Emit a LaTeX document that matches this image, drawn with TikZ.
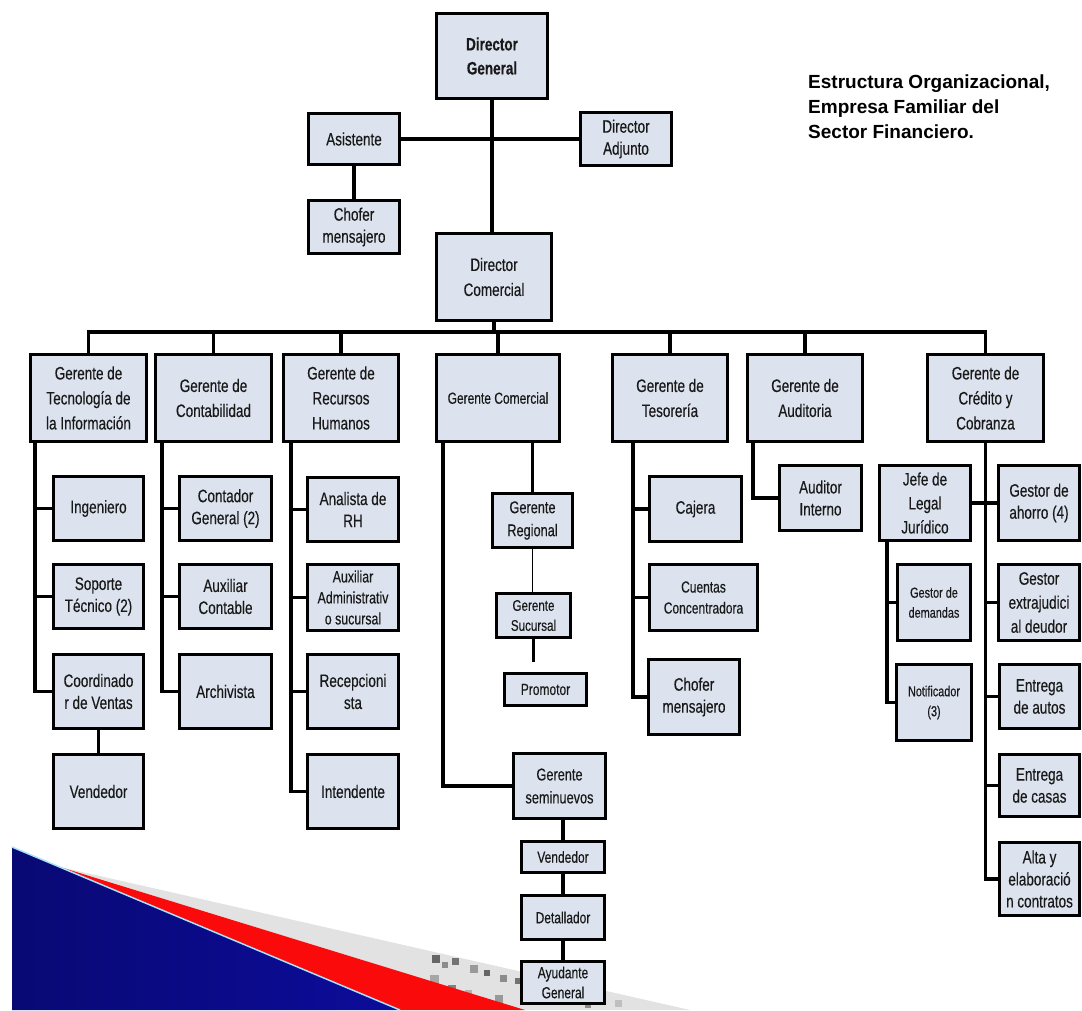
\documentclass[tikz,border=0pt]{standalone}
\usepackage{fontspec}
\setmainfont{Liberation Sans}
\newfontfamily\nar[FakeStretch=0.75,FakeBold=0.35]{Liberation Sans}
\definecolor{boxfill}{RGB}{220,227,238}
\definecolor{txt}{RGB}{25,25,25}
\definecolor{decoblue}{RGB}{12,12,155}
\definecolor{decored}{RGB}{250,10,10}
\definecolor{decogray}{RGB}{226,226,226}
\newcommand{\orgbox}[7][]{\node[bx,minimum width={(#4-#2-3)*1pt},minimum height={(#5-#3-3)*1pt},#1] (#6) at ({(#2+#4)/2},{(#3+#5)/2}) {#7};}
\begin{document}
\begin{tikzpicture}[x=1pt,y=-1pt,
  bx/.style={draw=black, line width=3.1pt, fill=boxfill, inner sep=0pt, align=center, text=txt,
             font=\nar\fontsize{18}{22}\selectfont},
  mgr/.style={font=\nar\fontsize{18}{25}\selectfont},
  sm/.style={font=\nar\fontsize{16}{21}\selectfont},
  xs/.style={font=\nar\fontsize{14.5}{20}\selectfont},
  ln/.style={line width=3.1pt, draw=black},
  thinln/.style={line width=1.4pt, draw=black}]
\useasboundingbox (0,0) rectangle (1082,1010);
\fill[white] (0,0) rectangle (1082,1010);

% ---------- decoration (bottom left) ----------
\fill[decogray] (60,867) -- (690,1010) -- (525,1010) -- cycle;
\foreach \px/\py/\s/\c in {432/955/8/60,442/962/6/45,452/958/7/55,470/965/8/40,484/970/6/60,500/975/7/45,
  515/978/6/55,430/975/9/35,448/985/8/50,465/990/7/30,495/995/8/40,600/995/6/35,615/1000/7/25,585/1002/6/45}
  {\fill[black!\c] (\px,\py) rectangle ++(\s,\s);}
\fill[decored] (60,867) -- (525,1010) -- (400,1010) -- cycle;
\shade[left color=decoblue!75!black, right color=decoblue] (12,847) -- (400,1010) -- (12,1010) -- cycle;
\draw[cyan!35!white, line width=1.5pt] (12,847) -- (400,1010);

% ---------- title ----------
\node[anchor=north west, inner sep=0pt, align=left, font=\bfseries\fontsize{19}{25}\selectfont] (title) at (808,75)
  {Estructura Organizacional,\\Empresa Familiar del\\Sector Financiero.};

% ---------- top ----------
\orgbox[font=\nar\bfseries\fontsize{18}{24}\selectfont]{435}{12}{549}{100}{dg}{Director\\General}
\orgbox{307}{112}{401}{166}{asis}{Asistente}
\orgbox{579}{111}{673}{167}{adj}{Director\\Adjunto}
\orgbox{307}{199}{401}{255}{chof}{Chofer\\mensajero}
\orgbox[mgr]{435}{232}{553}{322}{dc}{Director\\Comercial}

% ---------- managers ----------
\orgbox[mgr]{29}{353}{148}{443}{ti}{Gerente de\\Tecnología de\\la Información}
\orgbox[mgr]{154}{353}{273}{443}{cont}{Gerente de\\Contabilidad}
\orgbox[mgr]{282}{353}{400}{443}{rh}{Gerente de\\Recursos\\Humanos}
\orgbox[sm]{435}{353}{561}{443}{com}{Gerente Comercial}
\orgbox[mgr]{611}{353}{729}{443}{tes}{Gerente de\\Tesorería}
\orgbox[mgr]{746}{353}{864}{443}{aud}{Gerente de\\Auditoria}
\orgbox[mgr]{926}{353}{1045}{443}{cred}{Gerente de\\Crédito y\\Cobranza}

% ---------- TI ----------
\orgbox{52}{475}{145}{542}{ing}{Ingeniero}
\orgbox{52}{563}{145}{630}{sop}{Soporte\\Técnico (2)}
\orgbox{52}{653}{145}{730}{coord}{Coordinado\\r de Ventas}
\orgbox{52}{753}{145}{830}{vend}{Vendedor}

% ---------- Contabilidad ----------
\orgbox{178}{475}{273}{542}{conta}{Contador\\General (2)}
\orgbox{178}{563}{273}{630}{auxc}{Auxiliar\\Contable}
\orgbox{178}{653}{273}{730}{arch}{Archivista}

% ---------- RRHH ----------
\orgbox{306}{476}{400}{543}{anal}{Analista de\\RH}
\orgbox[font=\nar\fontsize{16.5}{21}\selectfont]{306}{563}{400}{632}{auxa}{Auxiliar\\Administrativ\\o sucursal}
\orgbox{306}{653}{400}{730}{recep}{Recepcioni\\sta}
\orgbox{306}{753}{400}{830}{inten}{Intendente}

% ---------- Comercial ----------
\orgbox[font=\nar\fontsize{17}{23}\selectfont]{491}{492}{574}{549}{reg}{Gerente\\Regional}
\orgbox[font=\nar\fontsize{15.5}{20}\selectfont]{495}{592}{572}{639}{suc}{Gerente\\Sucursal}
\orgbox[sm]{503}{672}{588}{707}{prom}{Promotor}
\orgbox[font=\nar\fontsize{17}{23}\selectfont]{512}{752}{607}{820}{semi}{Gerente\\seminuevos}
\orgbox[sm]{520}{840}{606}{874}{vend2}{Vendedor}
\orgbox[sm]{520}{894}{606}{941}{det}{Detallador}
\orgbox[font=\nar\fontsize{16}{20}\selectfont]{520}{960}{606}{1005}{ayu}{Ayudante\\General}

% ---------- Tesoreria ----------
\orgbox{648}{475}{743}{543}{caj}{Cajera}
\orgbox[sm]{648}{563}{759}{632}{cue}{Cuentas\\Concentradora}
\orgbox{647}{658}{741}{736}{chof2}{Chofer\\mensajero}

% ---------- Auditoria ----------
\orgbox{778}{464}{863}{532}{audi}{Auditor\\Interno}

% ---------- Credito ----------
\orgbox[font=\nar\fontsize{18}{24}\selectfont]{878}{464}{972}{542}{jefe}{Jefe de\\Legal\\Jurídico}
\orgbox{997}{464}{1081}{542}{aho}{Gestor de\\ahorro (4)}
\orgbox[font=\nar\fontsize{18}{24}\selectfont]{997}{563}{1081}{642}{ext}{Gestor\\extrajudici\\al deudor}
\orgbox{998}{663}{1081}{730}{aut}{Entrega\\de autos}
\orgbox{998}{753}{1081}{818}{cas}{Entrega\\de casas}
\orgbox{998}{841}{1081}{917}{alta}{Alta y\\elaboració\\n contratos}
\orgbox[xs]{896}{563}{972}{642}{dem}{Gestor de\\demandas}
\orgbox[xs]{895}{663}{973}{742}{notif}{Notificador\\(3)}

% ---------- connectors: top ----------
\draw[ln] (dg.south) -- (dg.south |- dc.north);
\draw[ln] (asis.east) -- (adj.west);
\draw[ln] (asis.south) -- (chof.north);

% ---------- bus ----------
\coordinate (bus) at (0,332);
\draw[ln] (ti.north) -- (ti.north |- bus) -- (cred.north |- bus) -- (cred.north);
\foreach \m in {cont,rh,com,tes,aud} {\draw[ln] (\m.north) -- (\m.north |- bus);}
\draw[ln] (dc.south) -- (dc.south |- bus);

% ---------- TI ----------
\coordinate (sti) at ([xshift=6pt]ti.south west);
\draw[ln] (sti) |- (coord.west);
\draw[ln] (ing.west) -- (ing.west -| sti);
\draw[ln] (sop.west) -- (sop.west -| sti);
\draw[ln] (coord.south) -- (vend.north);

% ---------- Contabilidad ----------
\coordinate (scont) at ([xshift=8pt]cont.south west);
\draw[ln] (scont) |- (arch.west);
\draw[ln] (conta.west) -- (conta.west -| scont);
\draw[ln] (auxc.west) -- (auxc.west -| scont);

% ---------- RRHH ----------
\coordinate (srh) at ([xshift=9pt]rh.south west);
\draw[ln] (srh) |- (inten.west);
\foreach \c in {anal,auxa,recep} {\draw[ln] (\c.west) -- (\c.west -| srh);}

% ---------- Comercial ----------
\coordinate (scom) at ([xshift=8pt]com.south west);
\draw[ln] (scom) |- (semi.west);
\draw[ln] (reg.north |- com.south) -- (reg.north);
\draw[thinln] (reg.south) -- (reg.south |- suc.north);
\path (suc.south |- prom.north) ++(0,-10) coordinate (pg);
\draw[ln] (suc.south) -- (pg);
\draw[ln] (vend2.north |- semi.south) -- (vend2.north);
\draw[ln] (vend2.south) -- (det.north);
\draw[ln] (det.south) -- (ayu.north);

% ---------- Tesoreria ----------
\coordinate (stes) at ([xshift=22pt]tes.south west);
\draw[ln] (stes) |- (chof2.west);
\draw[ln] (caj.west) -- (caj.west -| stes);
\draw[ln] (cue.west) -- (cue.west -| stes);

% ---------- Auditoria ----------
\coordinate (saud) at ([xshift=7pt]aud.south west);
\draw[ln] (saud) |- (audi.west);

% ---------- Credito ----------
\draw[ln] (cred.south) |- (alta.west);
\draw[ln] (jefe.east) -- (aho.west);
\foreach \c in {ext,aut,cas} {\draw[ln] (\c.west) -- (\c.west -| cred.south);}
\coordinate (sj) at ([xshift=9pt]jefe.south west);
\draw[ln] (sj) |- (notif.west);
\draw[ln] (dem.west) -- (dem.west -| sj);
\end{tikzpicture}
\end{document}
